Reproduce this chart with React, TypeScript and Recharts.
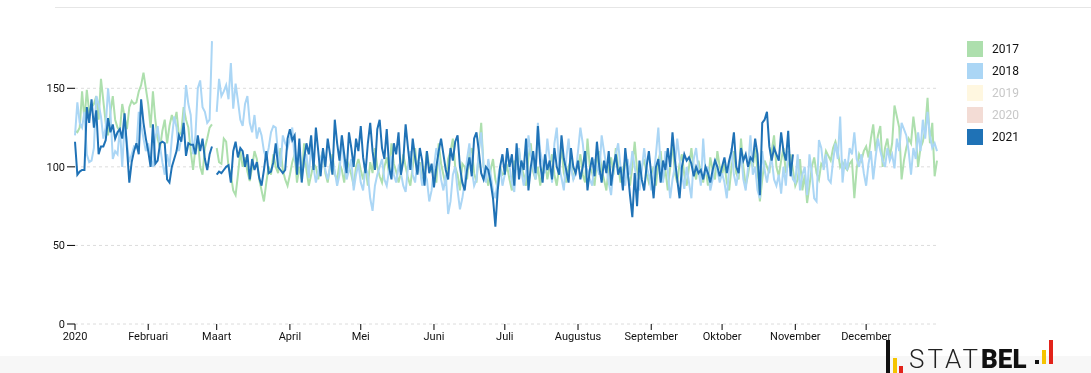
import { LineChart, Line, XAxis, YAxis, CartesianGrid } from "recharts";

// axis is a leap year (2020), so Feb 29 (day 59) is empty for the other years
const MONTHS = ["2020", "Februari", "Maart", "April", "Mei", "Juni", "Juli", "Augustus", "September", "Oktober", "November", "December"];
const MONTH_STARTS = [0, 31, 60, 91, 121, 152, 182, 213, 244, 274, 305, 335];
const Y_TICKS = [0, 50, 100, 150];

const Y2017 = [
  [123, 122, 125, 148, 130, 149, 135, 138, 140, 145, 130, 156, 142, 128, 120, 135, 145, 130, 125, 123, 140, 132, 124, 138, 142, 140, 141, 148, 152, 160, 150],
  [140, 125, 148, 130, 118, 112, 123, 130, 115, 126, 133, 128, 135, 120, 122, 138, 130, 125, 110, 98, 112, 118, 100, 95, 112, 118, 125, 127],
  [112, 103, 102, 118, 116, 100, 95, 85, 82, 95, 110, 100, 106, 97, 91, 100, 110, 105, 92, 85, 78, 90, 100, 95, 108, 100, 96, 112, 98, 92, 88],
  [95, 103, 108, 90, 100, 92, 115, 98, 88, 95, 102, 100, 92, 105, 110, 96, 90, 100, 108, 95, 92, 102, 98, 90, 105, 100, 95, 88, 100, 105],
  [98, 92, 100, 88, 103, 96, 112, 100, 94, 90, 100, 106, 95, 115, 102, 97, 90, 96, 108, 100, 93, 88, 100, 112, 96, 103, 90, 95, 110, 100, 97],
  [98, 90, 115, 102, 95, 88, 105, 110, 118, 100, 95, 85, 102, 100, 92, 108, 112, 96, 90, 110, 128, 100, 95, 88, 98, 105, 92, 86, 100, 95],
  [96, 100, 92, 85, 104, 98, 110, 100, 95, 88, 106, 115, 97, 92, 100, 88, 98, 105, 92, 100, 108, 95, 88, 100, 112, 96, 90, 100, 105, 92, 98],
  [100, 108, 95, 90, 118, 100, 96, 88, 104, 110, 98, 92, 85, 100, 106, 95, 112, 100, 90, 98, 104, 95, 88, 100, 116, 98, 92, 100, 105, 96, 90],
  [95, 100, 88, 104, 110, 92, 98, 85, 100, 115, 96, 90, 102, 108, 95, 88, 100, 112, 98, 92, 104, 96, 90, 100, 88, 106, 98, 92, 110, 100],
  [95, 102, 90, 85, 100, 110, 96, 92, 118, 100, 88, 95, 105, 100, 112, 98, 78, 92, 104, 100, 96, 110, 120, 100, 94, 104, 112, 96, 102, 108, 98],
  [88, 92, 105, 85, 95, 77, 88, 100, 106, 96, 92, 102, 100, 110, 107, 104, 112, 116, 110, 100, 103, 100, 98, 102, 104, 80, 99, 108, 104, 110],
  [113, 106, 118, 127, 110, 120, 126, 100, 112, 118, 106, 115, 139, 132, 125, 92, 104, 112, 118, 115, 132, 120, 100, 112, 116, 124, 144, 115, 128, 94, 104],
];

const Y2018 = [
  [120, 141, 128, 125, 135, 108, 103, 104, 112, 145, 140, 132, 118, 125, 150, 135, 105, 110, 108, 125, 100, 128, 115, 103, 108, 113, 112, 135, 127, 118, 110],
  [115, 105, 100, 118, 126, 113, 103, 95, 108, 100, 118, 132, 125, 110, 118, 128, 152, 140, 133, 108, 120, 150, 155, 138, 135, 128, 130, 180],
  [135, 156, 145, 148, 152, 143, 166, 137, 153, 142, 130, 126, 140, 145, 128, 122, 133, 118, 125, 120, 110, 105, 112, 122, 126, 125, 108, 100, 120, 115, 112],
  [118, 125, 105, 100, 112, 95, 102, 108, 93, 115, 100, 90, 97, 105, 110, 98, 92, 100, 105, 97, 88, 95, 120, 100, 92, 98, 105, 85, 95, 102],
  [90, 85, 100, 95, 80, 72, 88, 95, 100, 105, 92, 88, 98, 107, 95, 90, 100, 96, 88, 84, 100, 110, 95, 90, 104, 100, 88, 96, 92, 78, 85],
  [100, 112, 104, 92, 85, 95, 70, 78, 95, 100, 85, 73, 80, 90, 105, 115, 98, 88, 92, 110, 122, 100, 90, 105, 95, 85, 80, 92, 100, 88],
  [95, 110, 100, 90, 84, 105, 112, 98, 88, 95, 120, 108, 100, 92, 128, 110, 102, 96, 118, 105, 90, 115, 125, 100, 93, 85, 105, 118, 100, 92, 96],
  [110, 125, 115, 100, 98, 92, 88, 105, 100, 95, 120, 110, 100, 90, 82, 98, 108, 115, 100, 92, 88, 105, 95, 110, 100, 90, 85, 98, 112, 100, 95],
  [85, 95, 108, 125, 100, 90, 110, 98, 80, 92, 100, 118, 105, 95, 86, 100, 90, 80, 105, 112, 98, 88, 118, 95, 100, 85, 92, 105, 98, 90],
  [96, 90, 80, 100, 112, 95, 88, 98, 110, 92, 85, 100, 120, 95, 100, 85, 80, 110, 98, 90, 100, 105, 92, 88, 95, 83, 100, 88, 110, 100, 92],
  [90, 108, 85, 95, 100, 82, 108, 96, 80, 78, 117, 112, 98, 108, 92, 90, 104, 115, 105, 132, 90, 105, 98, 112, 108, 122, 105, 100, 108, 96],
  [88, 102, 110, 92, 106, 118, 110, 104, 100, 112, 104, 108, 99, 118, 110, 128, 124, 120, 110, 95, 112, 105, 122, 110, 130, 118, 135, 120, 112, 115, 110],
];

// 2021 runs to 31 October
const Y2021 = [
  [116, 95, 97, 98, 98, 138, 128, 143, 125, 136, 108, 113, 113, 117, 131, 122, 127, 118, 122, 124, 118, 134, 112, 90, 103, 110, 115, 108, 143, 128, 118],
  [110, 100, 127, 102, 104, 115, 116, 115, 92, 90, 100, 105, 110, 120, 116, 128, 107, 115, 114, 114, 108, 120, 110, 118, 105, 98, 108, 113],
  [95, 97, 96, 98, 100, 101, 90, 110, 116, 106, 112, 110, 100, 108, 92, 105, 98, 103, 93, 88, 98, 110, 96, 97, 103, 115, 100, 98, 96, 98, 118],
  [124, 117, 120, 95, 118, 90, 105, 115, 108, 120, 98, 125, 110, 94, 112, 100, 118, 108, 95, 130, 115, 104, 120, 108, 96, 122, 112, 100, 118, 110],
  [126, 106, 96, 115, 128, 110, 98, 124, 130, 112, 105, 124, 100, 92, 115, 108, 122, 95, 104, 127, 112, 98, 118, 106, 95, 112, 104, 88, 110, 96, 102],
  [87, 100, 110, 118, 108, 98, 92, 112, 104, 116, 120, 100, 90, 85, 98, 106, 94, 118, 122, 110, 96, 92, 100, 98, 90, 80, 62, 85, 100, 108],
  [95, 112, 100, 108, 88, 115, 92, 104, 98, 118, 85, 100, 110, 96, 126, 102, 90, 108, 98, 104, 92, 112, 100, 95, 120, 105, 98, 90, 112, 100, 96],
  [104, 92, 100, 110, 85, 98, 106, 94, 116, 100, 90, 104, 96, 110, 88, 100, 108, 95, 100, 85, 112, 98, 82, 68, 96, 75, 104, 92, 85, 100, 110],
  [95, 80, 100, 105, 90, 104, 98, 112, 100, 122, 105, 92, 80, 100, 108, 104, 106, 102, 94, 100, 96, 98, 92, 100, 96, 90, 98, 104, 100, 94],
  [100, 106, 96, 104, 110, 122, 100, 96, 112, 104, 108, 100, 106, 104, 118, 108, 82, 128, 130, 135, 113, 104, 112, 108, 104, 122, 110, 104, 123, 94, 108],
];

const SERIES = [
  { key: "y2017", label: "2017", color: "#addfad", shown: true },
  { key: "y2018", label: "2018", color: "#abd6f5", shown: true },
  { key: "y2019", label: "2019", color: "#fff7e0", shown: false },
  { key: "y2020", label: "2020", color: "#f3dcd5", shown: false },
  { key: "y2021", label: "2021", color: "#1f72b6", shown: true },
];

// put a non-leap year onto the leap-year axis
function onLeapAxis(months: number[][], day: number) {
  const flat = months.flat();
  if (day === 59) return null;
  const v = flat[day < 59 ? day : day - 1];
  return v === undefined ? null : v;
}

const data = Array.from({ length: 366 }, (_, day) => ({
  day,
  y2017: onLeapAxis(Y2017, day),
  y2018: onLeapAxis(Y2018, day),
  y2021: onLeapAxis(Y2021, day),
}));

const font = "Roboto, 'Noto Sans', sans-serif";

function Legend() {
  return (
    <div style={{ position: "fixed", left: 967, top: 38, fontFamily: font, fontSize: 12 }}>
      {SERIES.map((s) => (
        <div key={s.key} style={{ display: "flex", alignItems: "center", height: 22 }}>
          <div style={{ width: 16, height: 16, background: s.color }} />
          <span style={{ marginLeft: 9, color: s.shown ? "#111" : "#c8c8c8" }}>{s.label}</span>
        </div>
      ))}
    </div>
  );
}

function Logo() {
  return (
    <div style={{ position: "fixed", left: 886, top: 340, height: 40, display: "flex", alignItems: "flex-start", fontFamily: font }}>
      <div style={{ width: 4, height: 34, background: "#111" }} />
      <div style={{ width: 4, height: 16, background: "#f5c400", marginLeft: 3, marginTop: 18 }} />
      <div style={{ width: 4, height: 8, background: "#e2231a", marginLeft: 2, marginTop: 26 }} />
      <span style={{ fontSize: 26, lineHeight: "30px", marginTop: 4, marginLeft: 6, color: "#222", fontWeight: 300, letterSpacing: 3 }}>STAT</span>
      <span style={{ fontSize: 26, lineHeight: "30px", marginTop: 4, color: "#111", fontWeight: 900 }}>BEL</span>
      <div style={{ width: 4, height: 4, background: "#111", marginLeft: 8, marginTop: 20 }} />
      <div style={{ width: 4, height: 14, background: "#f5c400", marginLeft: 3, marginTop: 10 }} />
      <div style={{ width: 4, height: 24, background: "#e2231a", marginLeft: 3 }} />
    </div>
  );
}

export default function App() {
  return (
    <div>
      <div style={{ position: "fixed", left: 55, right: 0, top: 7, height: 1, background: "#e6e6e6" }} />
      <div style={{ position: "fixed", left: 0, right: 0, top: 356, height: 20, background: "#f7f7f7" }} />
      <div style={{ position: "fixed", left: 0, top: 0 }}>
        <LineChart width={1091} height={356} data={data} margin={{ top: 38, right: 154, bottom: 8, left: 10 }}>
          <CartesianGrid vertical={false} horizontalValues={Y_TICKS} stroke="#dcdcdc" strokeDasharray="3 3" />
          <XAxis
            dataKey="day"
            type="number"
            domain={[0, 365]}
            ticks={MONTH_STARTS}
            tickFormatter={(v: number) => MONTHS[MONTH_STARTS.indexOf(v)]}
            interval={0}
            axisLine={false}
            tickLine={{ stroke: "#000" }}
            tickSize={6}
            height={24}
            tick={{ fontSize: 11, fill: "#111", fontFamily: font }}
          />
          <YAxis
            domain={[0, 182]}
            ticks={Y_TICKS}
            axisLine={false}
            tickLine={{ stroke: "#000" }}
            tickSize={8}
            width={65}
            tick={{ fontSize: 11, fill: "#111", fontFamily: font }}
          />
          {SERIES.filter((s) => s.shown).map((s) => (
            <Line
              key={s.key}
              dataKey={s.key}
              type="linear"
              stroke={s.color}
              strokeWidth={2}
              dot={false}
              activeDot={false}
              isAnimationActive={false}
            />
          ))}
        </LineChart>
      </div>
      <Legend />
      <Logo />
    </div>
  );
}
